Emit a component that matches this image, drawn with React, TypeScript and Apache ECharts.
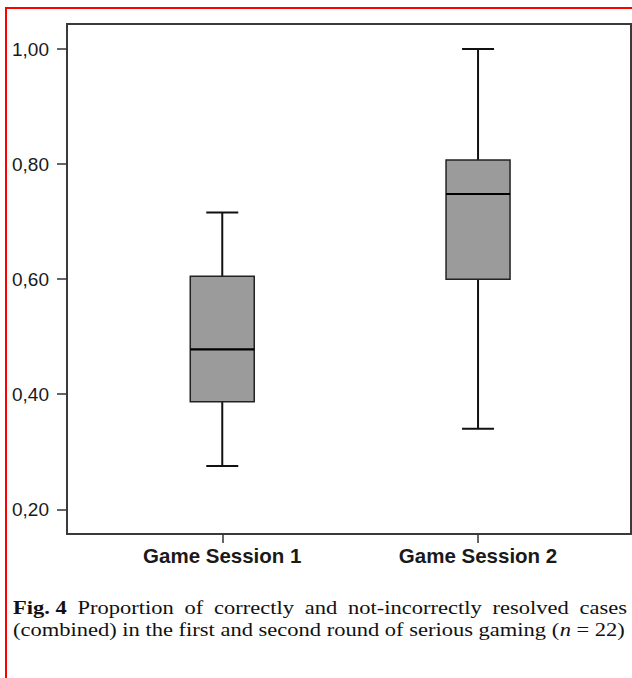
import React, { useEffect, useRef } from 'react';
import * as echarts from 'echarts';

// ---- data ----
const sessions = ['Game Session 1', 'Game Session 2'];
const whiskerLow = [0.275, 0.34];
const q1 = [0.387, 0.6];
const median = [0.478, 0.748];
const q3 = [0.605, 0.807];
const whiskerHigh = [0.716, 1.0];
const yTicks = [0.2, 0.4, 0.6, 0.8, 1.0];
const captionLine1 = ['Fig. 4', 'Proportion', 'of', 'correctly', 'and', 'not-incorrectly', 'resolved', 'cases'];
const captionLine2Plain = '(combined) in the first and second round of serious gaming (n = 22)';
const captionLine2 = '(combined) in the first and second round of serious gaming ({i|n} = 22)';

const SANS = '"Liberation Sans", Arial, sans-serif';
const SERIF = '"Liberation Serif", "Times New Roman", serif';
const CAP_SIZE = 19.5;

function measure(text: string, font: string): number {
  const c = document.createElement('canvas').getContext('2d');
  if (!c) return text.length * 9;
  c.font = font;
  return c.measureText(text).width;
}

export default function App() {
  const ref = useRef<HTMLDivElement>(null);

  useEffect(() => {
    if (!ref.current) return;
    const chart = echarts.init(ref.current, undefined, { renderer: 'svg' });

    const leftX = 13;
    const rightX = 627;
    // horizontal stretch of the caption text, as in the reference
    const line2W = measure(captionLine2Plain, `${CAP_SIZE}px "Liberation Serif"`);
    const sx = (625 - leftX) / line2W;

    // justified first caption line
    const widths = captionLine1.map(
      (w, i) => measure(w, `${i === 0 ? 'bold ' : ''}${CAP_SIZE}px "Liberation Serif"`) * sx
    );
    const total = widths.reduce((a, b) => a + b, 0);
    const gap = (rightX - leftX - total) / (captionLine1.length - 1);
    let cur = leftX;
    const line1Els = captionLine1.map((w, i) => {
      const el = {
        type: 'text',
        x: cur,
        y: 608,
        scaleX: sx,
        style: {
          text: w,
          fontFamily: SERIF,
          fontSize: CAP_SIZE,
          fontWeight: i === 0 ? 'bold' : 'normal',
          fill: '#111',
          verticalAlign: 'middle',
          align: 'left',
        },
      };
      cur += widths[i] + gap;
      return el;
    });

    const data = sessions.map((_, i) => [i + 1, whiskerLow[i], q1[i], median[i], q3[i], whiskerHigh[i]]);

    chart.setOption({
      animation: false,
      backgroundColor: '#ffffff',
      grid: {
        left: 67,
        top: 24,
        right: 1,
        bottom: 144,
        show: true,
        borderColor: '#3a3a3a',
        borderWidth: 2,
        backgroundColor: 'transparent',
      },
      xAxis: {
        type: 'value',
        min: 0.393,
        max: 2.598,
        splitLine: { show: false },
        axisLine: { show: false },
        axisTick: {
          show: true,
          customValues: [1, 2],
          length: 9,
          lineStyle: { color: '#333', width: 1.5 },
        },
        axisLabel: {
          show: true,
          customValues: [1, 2],
          formatter: (v: number) => sessions[Math.round(v) - 1] ?? '',
          fontFamily: SANS,
          fontWeight: 'bold',
          fontSize: 20.5,
          color: '#1a1a1a',
          margin: 11,
        },
      },
      yAxis: {
        type: 'value',
        min: 0.157,
        max: 1.0435,
        splitLine: { show: false },
        axisLine: { show: false },
        axisTick: {
          show: true,
          customValues: yTicks,
          length: 10,
          lineStyle: { color: '#333', width: 1.5 },
        },
        axisLabel: {
          show: true,
          customValues: yTicks,
          formatter: (v: number) => v.toFixed(2).replace('.', ','),
          fontFamily: SANS,
          fontSize: 19,
          color: '#1a1a1a',
          margin: 18,
        },
      },
      series: [
        {
          type: 'custom',
          data,
          encode: { x: 0, y: [1, 2, 3, 4, 5] },
          renderItem: (params: any, api: any) => {
            const x = api.value(0);
            const lo = api.coord([x, api.value(1)]);
            const b1 = api.coord([x, api.value(2)]);
            const md = api.coord([x, api.value(3)]);
            const b3 = api.coord([x, api.value(4)]);
            const hi = api.coord([x, api.value(5)]);
            const cx = lo[0];
            const hw = 32;
            const cw = 16;
            const ls = { stroke: '#111', lineWidth: 2 };
            return {
              type: 'group',
              children: [
                { type: 'line', shape: { x1: cx, y1: hi[1], x2: cx, y2: b3[1] }, style: ls },
                { type: 'line', shape: { x1: cx, y1: b1[1], x2: cx, y2: lo[1] }, style: ls },
                { type: 'line', shape: { x1: cx - cw, y1: hi[1], x2: cx + cw, y2: hi[1] }, style: ls },
                { type: 'line', shape: { x1: cx - cw, y1: lo[1], x2: cx + cw, y2: lo[1] }, style: ls },
                {
                  type: 'rect',
                  shape: { x: cx - hw, y: b3[1], width: hw * 2, height: b1[1] - b3[1] },
                  style: { fill: '#9b9b9b', stroke: '#222', lineWidth: 1.5 },
                },
                { type: 'line', shape: { x1: cx - hw, y1: md[1], x2: cx + hw, y2: md[1] }, style: { stroke: '#000', lineWidth: 2.2 } },
              ],
            };
          },
        },
      ],
      graphic: [
        {
          type: 'rect',
          shape: { x: 6, y: 8, width: 700, height: 700 },
          style: { fill: 'none', stroke: '#ff0000', lineWidth: 2 },
          silent: true,
        },
        ...line1Els,
        {
          type: 'text',
          x: leftX,
          y: 630,
          scaleX: sx,
          style: {
            text: captionLine2,
            fontFamily: SERIF,
            fontSize: CAP_SIZE,
            fill: '#111',
            verticalAlign: 'middle',
            align: 'left',
            rich: {
              i: { fontFamily: SERIF, fontSize: CAP_SIZE, fontStyle: 'italic', fill: '#111' },
            },
          },
        },
      ],
    });

    return () => chart.dispose();
  }, []);

  return (
    <div
      ref={ref}
      style={{ position: 'fixed', left: 0, top: 0, width: 632, height: 678, background: '#fff' }}
    />
  );
}
